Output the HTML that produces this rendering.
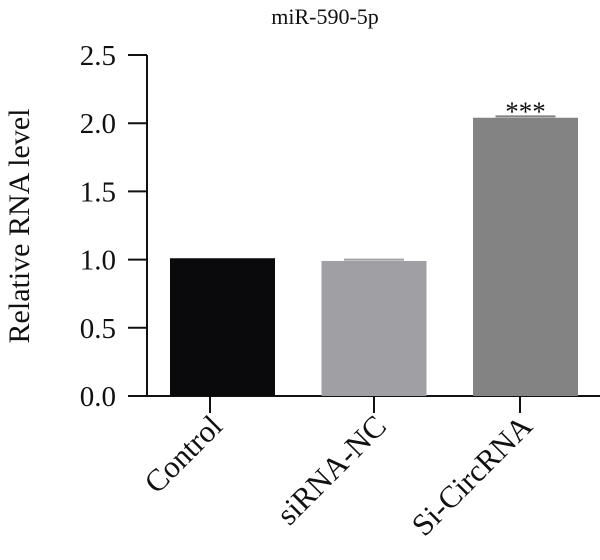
<!DOCTYPE html>
<html><head><meta charset="utf-8"><style>
body{margin:0;background:#fff}
svg text{font-family:"Liberation Serif",serif;fill:#111}
</style></head><body>
<svg id="chart" width="600" height="555" viewBox="0 0 600 555">
<text x="325" y="24" font-size="22" text-anchor="middle">miR-590-5p</text>
<text transform="translate(29,226) rotate(-90)" font-size="30" text-anchor="middle">Relative RNA level</text>
<g id="axes"></g><g id="bars"></g>
</svg>
<script>
const categories=["Control","siRNA-NC","Si-CircRNA"];
const values=[1.01,0.99,2.04];
const errors=[0.0,0.01,0.01];
const colors=["#0a0a0c","#a0a0a4","#838383"];
const yTicks=[0,0.5,1.0,1.5,2.0,2.5];
const tickLabels=["0.0","0.5","1.0","1.5","2.0","2.5"];
const sig=["","","***"];
const NS="http://www.w3.org/2000/svg";
const y0=396,yTop=55,yMax=2.5;
const y=v=>y0-(v/yMax)*(y0-yTop);
const barW=105;
const x=i=>170+i*151.5;
const tickX=[210,374,520];
function mk(t,a,p){const e=document.createElementNS(NS,t);for(const k in a)e.setAttribute(k,a[k]);p.appendChild(e);return e;}
const ax=document.getElementById('axes'),bg=document.getElementById('bars');
const yl=mk('line',{x1:147,y1:y(yMax),x2:147,y2:y0+1,stroke:'#111','stroke-width':2},ax);


const xl=mk('line',{x1:128,y1:y0,x2:600,y2:y0,stroke:'#111','stroke-width':2},ax);


yTicks.forEach((v,i)=>{
 const t=mk('line',{x1:128,y1:y(v),x2:147,y2:y(v),stroke:'#111','stroke-width':2},ax);
 
 
 const l=mk('text',{x:116,y:y(v)+10,'font-size':29,'text-anchor':'end'},ax);
 l.textContent=tickLabels[i];
 
 
});
categories.forEach((c,i)=>{
 const r=mk('rect',{x:x(i),y:y(values[i]),width:barW,height:y0-y(values[i]),fill:colors[i]},bg);
 
 
 if(errors[i]>0){
  const cx=x(i)+barW/2;
  const e=mk('line',{x1:cx-30,y1:y(values[i]+errors[i]),x2:cx+30,y2:y(values[i]+errors[i]),stroke:colors[i],'stroke-width':2},bg);
  
  
 }
 const t=mk('line',{x1:tickX[i],y1:y0,x2:tickX[i],y2:y0+17,stroke:'#111','stroke-width':2},ax);
 
 
 const l=mk('text',{transform:`translate(${tickX[i]+14},${y0+32}) rotate(-45)`,'font-size':31,'text-anchor':'end'},ax);
 l.textContent=c;
 
 
 if(sig[i]){
  const s=mk('text',{x:x(i)+barW/2,y:y(values[i]+errors[i])+4,'font-size':27,'text-anchor':'middle',fill:'#444'},bg);
  s.textContent=sig[i];
  
  
 }
});
</script>
</body></html>
